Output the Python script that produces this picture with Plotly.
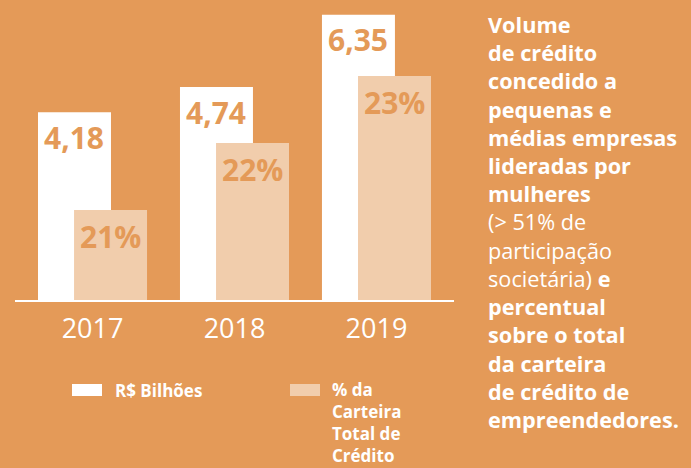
import plotly.graph_objects as go

# Data
years = ['2017', '2018', '2019']
volume_bi = [4.18, 4.74, 6.35]          # R$ Bilhões
share_pct = [21, 22, 23]                # % da Carteira Total de Crédito

BG = '#E49A58'
PEACH = '#F1CDAC'
WHITE = '#FFFFFF'
FONT = 'Open Sans'

W, H = 691, 468
M_L, M_R, M_T, M_B = 15, 237, 0, 168
PLOT_W = W - M_L - M_R
PLOT_H = H - M_T - M_B


def px_x(px):
    """Convert a pixel x position to paper coordinates."""
    return (px - M_L) / PLOT_W


def px_y(py):
    """Convert a pixel y position to paper coordinates."""
    return (H - M_B - py) / PLOT_H


x_pos = list(range(len(years)))
bar_w = 0.514
white_off = -0.384
peach_off = -0.130

fig = go.Figure()

fig.add_trace(go.Bar(
    name='R$ Bilhões',
    x=x_pos, y=volume_bi,
    width=bar_w, offset=white_off,
    marker=dict(color=WHITE, line=dict(width=0)),
    yaxis='y',
    hoverinfo='skip',
))

fig.add_trace(go.Bar(
    name='% da Carteira Total de Crédito',
    x=x_pos, y=share_pct,
    width=bar_w, offset=peach_off,
    marker=dict(color=PEACH, line=dict(width=0)),
    yaxis='y2',
    hoverinfo='skip',
))

annotations = []

# Value labels placed just inside the top of each bar
for i, v in enumerate(volume_bi):
    annotations.append(dict(
        x=i + white_off + bar_w / 2, y=v, xref='x', yref='y',
        text=f'<b>{v:.2f}</b>'.replace('.', ','),
        showarrow=False, yanchor='middle', yshift=-25,
        font=dict(family=FONT, size=30, color=BG),
    ))
for i, p in enumerate(share_pct):
    annotations.append(dict(
        x=i + peach_off + bar_w / 2, y=p, xref='x', yref='y2',
        text=f'<b>{p}%</b>',
        showarrow=False, yanchor='middle', yshift=-26,
        font=dict(family=FONT, size=30, color=BG),
    ))

# Hand-made legend below the axis
legend_font = dict(family=FONT, size=17, color=WHITE)
annotations.append(dict(
    x=px_x(113), y=px_y(390), xref='paper', yref='paper',
    text='<b>R$ Bilhões</b>', showarrow=False,
    xanchor='left', yanchor='middle', font=legend_font,
))
annotations.append(dict(
    x=px_x(330), y=px_y(376), xref='paper', yref='paper',
    text='<b>% da</b><br><b>Carteira</b><br><b>Total de</b><br><b>Crédito</b>',
    showarrow=False, align='left',
    xanchor='left', yanchor='top', font=legend_font,
))

# Side description
side_lines = [
    '<b>Volume</b>',
    '<b>de crédito</b>',
    '<b>concedido a</b>',
    '<b>pequenas e</b>',
    '<b>médias empresas</b>',
    '<b>lideradas por</b>',
    '<b>mulheres</b>',
    '(&gt; 51% de',
    'participação',
    'societária) <b>e</b>',
    '<b>percentual</b>',
    '<b>sobre o total</b>',
    '<b>da carteira</b>',
    '<b>de crédito de</b>',
    '<b>empreendedores.</b>',
]
annotations.append(dict(
    x=px_x(486), y=px_y(8), xref='paper', yref='paper',
    text='<br>'.join(side_lines), showarrow=False, align='left',
    xanchor='left', yanchor='top',
    font=dict(family=FONT, size=21.7, color=WHITE),
))

shapes = [
    dict(type='rect', xref='paper', yref='paper',
         x0=px_x(72), x1=px_x(102), y0=px_y(396), y1=px_y(384),
         fillcolor=WHITE, line=dict(width=0)),
    dict(type='rect', xref='paper', yref='paper',
         x0=px_x(290), x1=px_x(320), y0=px_y(396), y1=px_y(384),
         fillcolor=PEACH, line=dict(width=0)),
]

fig.update_layout(
    width=W, height=H,
    margin=dict(l=M_L, r=M_R, t=M_T, b=M_B, pad=0),
    paper_bgcolor=BG, plot_bgcolor=BG,
    barmode='overlay',
    showlegend=False,
    xaxis=dict(
        range=[-0.546, 2.546],
        tickmode='array', tickvals=x_pos, ticktext=years,
        tickfont=dict(family=FONT, size=27, color=WHITE),
        ticks='', showgrid=False, zeroline=False,
        showline=True, linecolor=WHITE, linewidth=1.5,
        ticklabelstandoff=4,
        fixedrange=True,
    ),
    yaxis=dict(
        range=[0, 300 / 44.93],
        visible=False, showgrid=False, zeroline=False, fixedrange=True,
    ),
    yaxis2=dict(
        range=[21 - 90 / 67, 21 - 90 / 67 + 300 / 67],
        overlaying='y', side='right',
        visible=False, showgrid=False, zeroline=False, fixedrange=True,
    ),
    annotations=annotations,
    shapes=shapes,
)

# the page's default body margin would shift the figure by 8px
fig.write_html(
    "out.html",
    config={'displayModeBar': False},
    post_script="document.body.style.margin='0';",
)
